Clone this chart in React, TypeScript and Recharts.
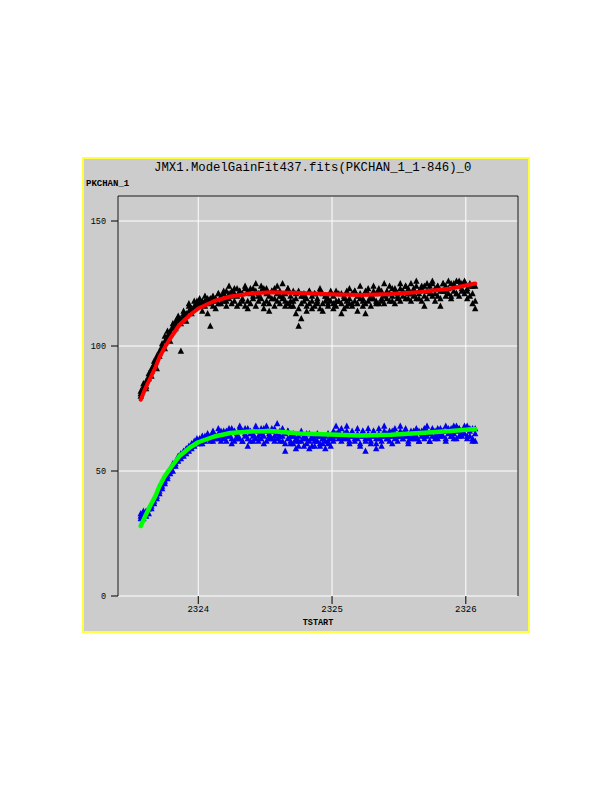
import React from 'react';
import { ComposedChart, Scatter, XAxis, YAxis, CartesianGrid } from 'recharts';

const tStart = [
  2323.57, 2323.59, 2323.61, 2323.63, 2323.65, 2323.67, 2323.69, 2323.71, 2323.73, 2323.75,
  2323.77, 2323.79, 2323.81, 2323.83, 2323.85, 2323.87, 2323.89, 2323.91, 2323.93, 2323.95,
  2323.97, 2323.99, 2324.01, 2324.03, 2324.05, 2324.07, 2324.09, 2324.11, 2324.13, 2324.15,
  2324.17, 2324.19, 2324.21, 2324.23, 2324.25, 2324.27, 2324.29, 2324.31, 2324.33, 2324.35,
  2324.37, 2324.39, 2324.41, 2324.43, 2324.45, 2324.47, 2324.49, 2324.51, 2324.53, 2324.55,
  2324.57, 2324.59, 2324.61, 2324.63, 2324.65, 2324.67, 2324.69, 2324.71, 2324.73, 2324.75,
  2324.77, 2324.79, 2324.81, 2324.83, 2324.85, 2324.87, 2324.89, 2324.91, 2324.93, 2324.95,
  2324.97, 2324.99, 2325.01, 2325.03, 2325.05, 2325.07, 2325.09, 2325.11, 2325.13, 2325.15,
  2325.17, 2325.19, 2325.21, 2325.23, 2325.25, 2325.27, 2325.29, 2325.31, 2325.33, 2325.35,
  2325.37, 2325.39, 2325.41, 2325.43, 2325.45, 2325.47, 2325.49, 2325.51, 2325.53, 2325.55,
  2325.57, 2325.59, 2325.61, 2325.63, 2325.65, 2325.67, 2325.69, 2325.71, 2325.73, 2325.75,
  2325.77, 2325.79, 2325.81, 2325.83, 2325.85, 2325.87, 2325.89, 2325.91, 2325.93, 2325.95,
  2325.97, 2325.99, 2326.01, 2326.03, 2326.05, 2326.07,
];

const blackValues = [
  82, 84, 83, 87, 88, 92, 91, 96, 101, 99,
  106, 102, 108, 110, 112, 98, 113, 110, 117, 115,
  118, 116, 119, 114, 120, 113, 108, 119, 115, 121,
  117, 122, 118, 124, 120, 123, 116, 122, 118, 124,
  115, 123, 119, 125, 121, 124, 117, 123, 114, 122,
  119, 124, 120, 125, 118, 123, 116, 122, 113, 108,
  111, 120, 116, 122, 115, 121, 117, 123, 114, 120,
  117, 122, 115, 118, 121, 113, 119, 116, 123, 117,
  122, 114, 124, 118, 113, 123, 119, 124, 117, 122,
  119, 125, 121, 124, 118, 123, 120, 125, 122, 124,
  119, 125, 121, 126, 119, 124, 116, 125, 121, 126,
  118, 124, 116, 125, 122, 126, 120, 125, 121, 126,
  122, 125, 119, 124, 117, 115,
];

const blackCore = [
  80, 83, 86, 89, 91, 94, 96, 98, 100, 102,
  104, 106, 107, 109, 110, 111, 112, 113, 114, 115,
  116, 117, 117, 118, 118, 119, 119, 120, 119, 121,
  120, 121, 122, 121, 122, 121, 123, 122, 121, 123,
  122, 121, 123, 122, 120, 122, 123, 121, 120, 122,
  123, 121, 122, 120, 121, 123, 120, 118, 121, 122,
  120, 121, 119, 122, 120, 121, 119, 122, 121, 120,
  119, 121, 120, 122, 118, 121, 120, 122, 119, 121,
  122, 120, 121, 119, 122, 121, 120, 122, 121, 123,
  122, 120, 122, 121, 123, 122, 121, 123, 122, 124,
  123, 121, 123, 124, 122, 123, 124, 122, 124, 125,
  123, 124, 122, 125, 124, 123, 125, 124, 126, 124,
  125, 126, 123, 125, 124, 124,
];

const blackLow = [
  81, 85, 84, 88, 90, 93, 95, 97, 99, 104,
  103, 105, 109, 107, 111, 109, 114, 112, 116, 113,
  115, 118, 116, 117, 116, 118, 117, 116, 118, 117,
  119, 118, 116, 119, 117, 118, 120, 117, 119, 116,
  118, 117, 120, 116, 118, 119, 115, 118, 117, 119,
  116, 118, 117, 119, 116, 117, 118, 116, 119, 115,
  117, 118, 114, 117, 118, 116, 118, 115, 117, 118,
  116, 118, 117, 116, 118, 117, 115, 118, 117, 116,
  118, 117, 119, 116, 117, 118, 116, 119, 118, 117,
  118, 117, 119, 118, 120, 117, 119, 118, 120, 119,
  121, 118, 120, 119, 121, 118, 120, 119, 122, 120,
  121, 120, 119, 122, 120, 121, 119, 122, 121, 120,
  123, 121, 122, 120, 121, 118,
];

const blueValues = [
  33, 31, 34, 33, 36, 37, 40, 42, 44, 46,
  48, 50, 52, 53, 56, 55, 58, 57, 60, 61,
  62, 63, 61, 64, 63, 65, 62, 66, 63, 67,
  62, 66, 64, 67, 61, 66, 63, 68, 62, 67,
  60, 65, 62, 68, 64, 67, 61, 68, 63, 67,
  64, 69, 62, 67, 58, 66, 61, 64, 59, 62,
  66, 60, 65, 59, 63, 60, 64, 61, 63, 59,
  62, 60, 66, 68, 65, 67, 63, 68, 62, 66,
  64, 67, 60, 66, 58, 67, 61, 66, 59, 67,
  60, 68, 63, 66, 61, 67, 64, 68, 63, 67,
  61, 66, 63, 67, 62, 66, 64, 68, 62, 66,
  63, 67, 64, 66, 62, 67, 64, 68, 63, 67,
  65, 68, 64, 67, 62, 65,
];

const blueCore = [
  31, 32, 33, 35, 37, 39, 41, 43, 45, 47,
  49, 51, 53, 54, 55, 57, 57, 59, 59, 60,
  61, 62, 63, 62, 64, 63, 64, 65, 64, 65,
  66, 65, 66, 65, 67, 66, 65, 67, 66, 65,
  67, 66, 65, 67, 66, 65, 67, 66, 65, 66,
  67, 65, 66, 64, 65, 66, 64, 65, 63, 64,
  65, 64, 63, 65, 64, 62, 65, 64, 63, 64,
  65, 64, 63, 65, 66, 64, 65, 66, 64, 65,
  63, 65, 64, 66, 63, 65, 64, 66, 63, 65,
  64, 66, 65, 64, 66, 65, 64, 66, 65, 66,
  64, 65, 66, 64, 66, 65, 67, 66, 65, 67,
  66, 65, 67, 66, 68, 66, 67, 65, 68, 67,
  66, 67, 68, 66, 67, 67,
];

const blueLow = [
  32, 34, 32, 35, 35, 38, 39, 41, 43, 45,
  47, 49, 50, 52, 54, 56, 56, 58, 58, 59,
  60, 61, 62, 61, 62, 64, 63, 62, 64, 63,
  64, 63, 62, 64, 63, 62, 64, 63, 62, 64,
  63, 62, 64, 63, 62, 63, 64, 62, 64, 63,
  62, 63, 64, 62, 61, 63, 62, 61, 62, 60,
  62, 63, 61, 62, 60, 63, 62, 60, 61, 62,
  61, 63, 62, 64, 63, 62, 64, 63, 61, 64,
  62, 63, 61, 64, 62, 63, 62, 64, 61, 63,
  62, 64, 63, 62, 64, 63, 62, 64, 63, 64,
  62, 63, 64, 63, 62, 64, 63, 64, 62, 64,
  64, 63, 65, 64, 63, 65, 64, 63, 66, 64,
  64, 65, 63, 64, 63, 62,
];

const fitTimes = [
  2323.57, 2323.60, 2323.64, 2323.68, 2323.71, 2323.75, 2323.79, 2323.86, 2323.94, 2324.00,
  2324.12, 2324.24, 2324.39, 2324.54, 2324.76, 2324.99, 2325.21, 2325.44, 2325.66, 2325.89, 2326.07,
];
const redFit = [78.5, 82.5, 87, 91.5, 95.5, 99.5, 103, 108.5, 112.5, 115, 118, 119.8, 121, 121.5, 121.2, 120.7, 120.4, 120.8, 121.6, 123, 125];
const greenFit = [28, 31.5, 36, 40, 44, 48, 51, 56, 59.5, 61.5, 63.8, 65.2, 65.8, 66, 65, 64.6, 64.2, 64.5, 65.2, 66, 66.8];

const xTicks = [2324, 2325, 2326];
const yTicks = [0, 50, 100, 150];

const toPts = (vals: number[]) => tStart.map((t, i) => ({ t, v: vals[i] }));
const blackPts = toPts(blackValues);
const blackCorePts = toPts(blackCore);
const blackLowPts = toPts(blackLow);
const bluePts = toPts(blueValues);
const blueCorePts = toPts(blueCore);
const blueLowPts = toPts(blueLow);
const redPts = fitTimes.map((t, i) => ({ t, v: redFit[i] }));
const greenPts = fitTimes.map((t, i) => ({ t, v: greenFit[i] }));

const tri = (color: string) => (props: any) => {
  const { cx, cy } = props;
  if (cx == null || cy == null) return <g />;
  return (
    <polygon
      points={`${cx},${cy - 3.5} ${cx - 3.2},${cy + 2.8} ${cx + 3.2},${cy + 2.8}`}
      fill={color}
    />
  );
};
const noDot = () => <g />;

const MONO = '"Liberation Mono", "DejaVu Sans Mono", monospace';

export default function App() {
  return (
    <div
      style={{
        position: 'absolute',
        left: 82,
        top: 157,
        width: 448,
        height: 476,
        boxSizing: 'border-box',
        border: '2px solid #FFFF40',
        background: '#CCCCCC',
      }}
    >
      <div
        style={{
          position: 'absolute',
          left: 70,
          top: 2,
          fontFamily: MONO,
          fontSize: 12.3,
          lineHeight: '14px',
          color: '#000',
          whiteSpace: 'nowrap',
        }}
      >
        JMX1.ModelGainFit437.fits(PKCHAN_1_1-846)_0
      </div>
      <div
        style={{
          position: 'absolute',
          left: 2,
          top: 20,
          fontFamily: MONO,
          fontSize: 9,
          fontWeight: 'bold',
          lineHeight: '10px',
          color: '#000',
          whiteSpace: 'nowrap',
        }}
      >
        PKCHAN_1
      </div>
      <div style={{ position: 'absolute', left: 0, top: 0 }}>
        <ComposedChart
          width={444}
          height={472}
          margin={{ top: 36, right: 9, bottom: 34, left: 33 }}
        >
          <CartesianGrid stroke="#FFFFFF" strokeWidth={1} />
          <XAxis
            xAxisId={0}
            type="number"
            dataKey="t"
            domain={[2323.4, 2326.39]}
            allowDataOverflow
            ticks={xTicks}
            height={1}
            axisLine={false}
            tickSize={8}
            tickMargin={2}
            tickLine={{ stroke: '#000' }}
            tick={{ fontSize: 9, fill: '#000', fontFamily: MONO }}
            label={{ value: 'TSTART', position: 'bottom', offset: 22, style: { fontSize: 8.5, fontFamily: MONO, fontWeight: 'bold', fill: '#000' } }}
          />
          <XAxis
            xAxisId="top"
            orientation="top"
            type="number"
            domain={[2323.4, 2326.39]}
            allowDataOverflow
            ticks={xTicks}
            height={1}
            axisLine={{ stroke: '#000' }}
            tickSize={8}
            tickLine={{ stroke: '#000' }}
            tick={false}
          />
          <YAxis
            yAxisId={0}
            type="number"
            dataKey="v"
            domain={[0, 160]}
            allowDataOverflow
            ticks={yTicks}
            width={1}
            axisLine={{ stroke: '#000' }}
            tickSize={7}
            tickMargin={5}
            tickLine={{ stroke: '#000' }}
            tick={{ fontSize: 8.5, fill: '#000', fontFamily: MONO }}
          />
          <YAxis
            yAxisId="right"
            orientation="right"
            type="number"
            domain={[0, 160]}
            allowDataOverflow
            ticks={yTicks}
            width={1}
            axisLine={{ stroke: '#000' }}
            tickSize={8}
            tickLine={{ stroke: '#000' }}
            tick={false}
          />
          <Scatter data={blackLowPts} dataKey="v" fill="#000" shape={tri('#000000')} isAnimationActive={false} />
          <Scatter data={blackCorePts} dataKey="v" fill="#000" shape={tri('#000000')} isAnimationActive={false} />
          <Scatter data={blackPts} dataKey="v" fill="#000" shape={tri('#000000')} isAnimationActive={false} />
          <Scatter data={blueLowPts} dataKey="v" fill="#0000EE" shape={tri('#0000EE')} isAnimationActive={false} />
          <Scatter data={blueCorePts} dataKey="v" fill="#0000EE" shape={tri('#0000EE')} isAnimationActive={false} />
          <Scatter data={bluePts} dataKey="v" fill="#0000EE" shape={tri('#0000EE')} isAnimationActive={false} />
          <Scatter
            data={redPts}
            dataKey="v"
            fill="#FF0000"
            line={{ stroke: '#FF0000', strokeWidth: 4, strokeLinejoin: 'round', strokeLinecap: 'round' }}
            lineType="joint"
            shape={noDot}
            isAnimationActive={false}
          />
          <Scatter
            data={greenPts}
            dataKey="v"
            fill="#00FF00"
            line={{ stroke: '#00FF00', strokeWidth: 4.5, strokeLinejoin: 'round', strokeLinecap: 'round' }}
            lineType="joint"
            shape={noDot}
            isAnimationActive={false}
          />
        </ComposedChart>
      </div>
    </div>
  );
}
